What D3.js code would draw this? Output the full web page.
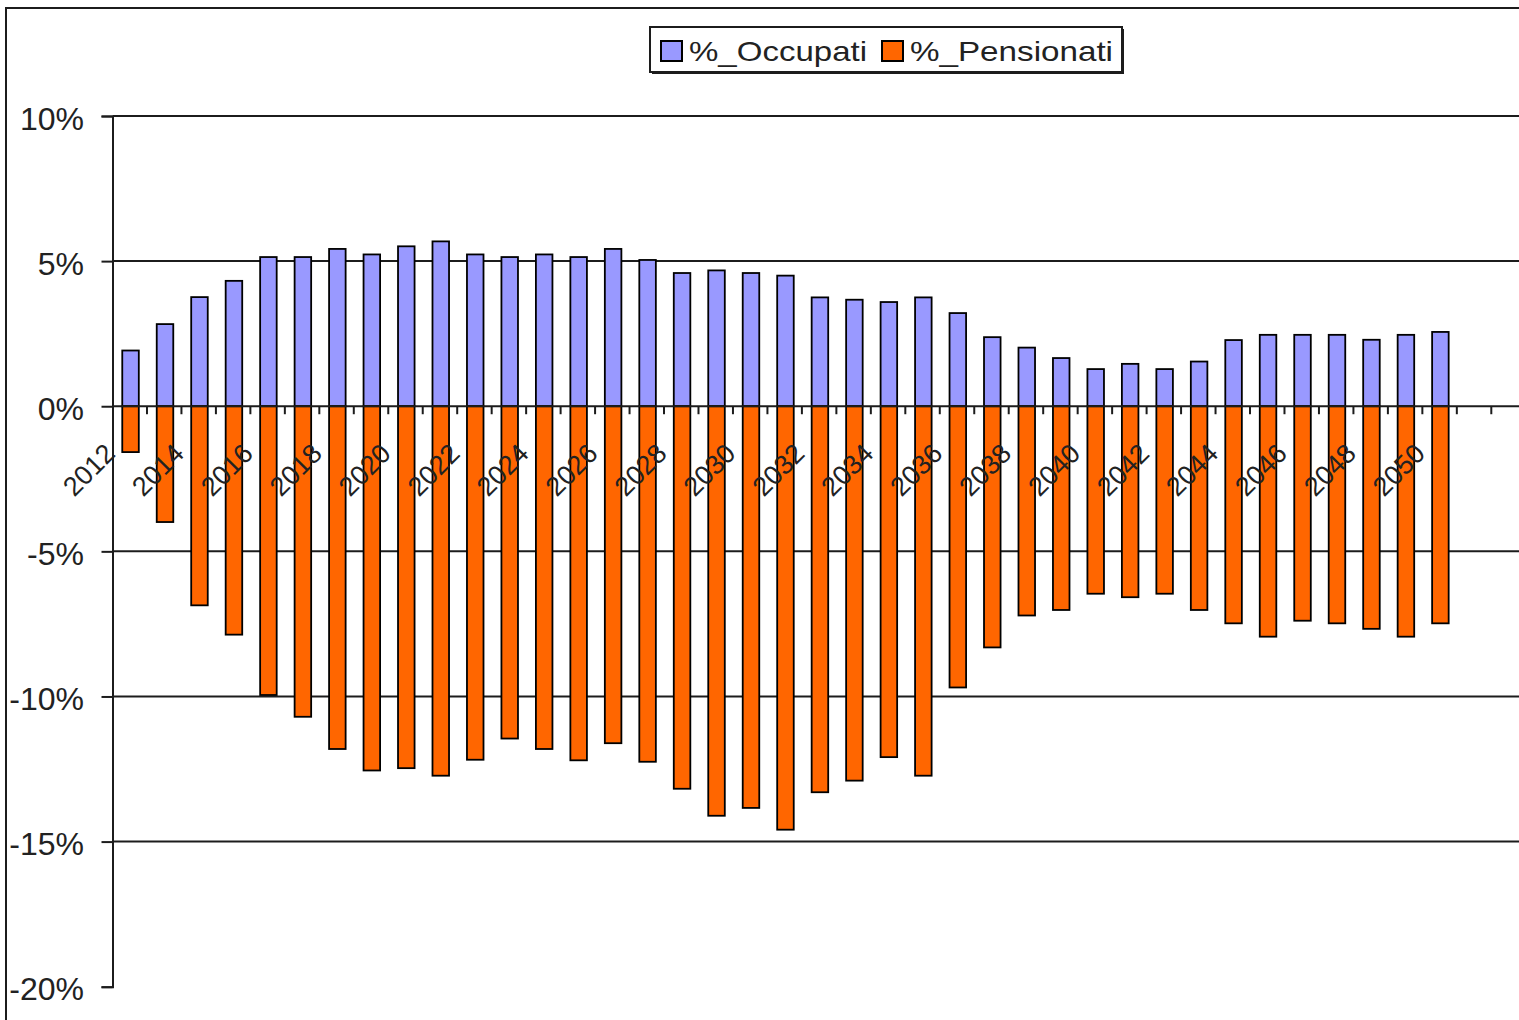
<!DOCTYPE html>
<html>
<head>
<meta charset="utf-8">
<script src="https://cdn.jsdelivr.net/npm/d3@7"></script>
<style>
  body { margin: 0; background: #fff; }
  svg { display: block; font-family: "Liberation Sans", Arial, sans-serif; }
</style>
</head>
<body>
<svg id="chart" width="1519" height="1020"></svg>
<script>
// Yearly change (%) of employed and retired people
const years = ["2012","2013","2014","2015","2016","2017","2018","2019","2020","2021",
               "2022","2023","2024","2025","2026","2027","2028","2029","2030","2031",
               "2032","2033","2034","2035","2036","2037","2038","2039","2040","2041",
               "2042","2043","2044","2045","2046","2047","2048","2049","2050"];
// the source range ends with two empty rows
const blankSlots = ["", ""];

const occupati = [1.92, 2.83, 3.76, 4.32, 5.14, 5.14, 5.42, 5.23, 5.51, 5.68,
                  5.23, 5.14, 5.23, 5.14, 5.42, 5.04, 4.59, 4.68, 4.59, 4.50,
                  3.75, 3.67, 3.59, 3.75, 3.21, 2.38, 2.02, 1.66, 1.28, 1.46,
                  1.28, 1.54, 2.28, 2.46, 2.46, 2.46, 2.29, 2.46, 2.56];

const pensionati = [-1.58, -3.99, -6.86, -7.87, -9.95, -10.70, -11.81, -12.55, -12.47, -12.73,
                    -12.18, -11.45, -11.81, -12.20, -11.61, -12.25, -13.18, -14.11, -13.84, -14.59,
                    -13.30, -12.90, -12.09, -12.73, -9.69, -8.31, -7.21, -7.02, -6.46, -6.58,
                    -6.46, -7.02, -7.48, -7.94, -7.39, -7.48, -7.67, -7.94, -7.48];

const yTicks = [-20, -15, -10, -5, 0, 5, 10];
const seriesNames = ["%_Occupati", "%_Pensionati"];
const seriesColors = ["#9999ff", "#ff6600"];

const categories = years.concat(blankSlots);

const svg = d3.select("#chart");
const ink = "#1c1c1c";

// chart area frame
svg.append("rect")
  .attr("x", 6).attr("y", 8)
  .attr("width", 1540).attr("height", 1040)
  .attr("fill", "#fff").attr("stroke", ink).attr("stroke-width", 2);

const plot = { left: 112.5, top: 116, bottom: 986.7, step: 34.47 };
plot.right = plot.left + plot.step * categories.length;

const x = d3.scaleBand()
  .domain(d3.range(categories.length))
  .range([plot.left, plot.right])
  .paddingInner(0).paddingOuter(0);

const y = d3.scaleLinear()
  .domain([d3.min(yTicks), d3.max(yTicks)])
  .range([plot.bottom, plot.top]);

const bw = x.bandwidth();
const barW = bw * 0.48;
const barX = i => x(i) + bw / 2 - barW / 2 + 0.8;

// horizontal gridlines
svg.append("g")
  .selectAll("line")
  .data(yTicks.filter(t => t !== 0 && t !== d3.min(yTicks)))
  .join("line")
  .attr("x1", plot.left).attr("x2", plot.right)
  .attr("y1", d => y(d)).attr("y2", d => y(d))
  .attr("stroke", ink).attr("stroke-width", 2);

// bars
const bars = svg.append("g").attr("stroke", "#000").attr("stroke-width", 1.8);
bars.selectAll("rect.occ")
  .data(occupati)
  .join("rect")
  .attr("class", "occ")
  .attr("x", (d, i) => barX(i))
  .attr("width", barW)
  .attr("y", d => y(Math.max(0, d)))
  .attr("height", d => Math.abs(y(d) - y(0)))
  .attr("fill", seriesColors[0]);

bars.selectAll("rect.pen")
  .data(pensionati)
  .join("rect")
  .attr("class", "pen")
  .attr("x", (d, i) => barX(i))
  .attr("width", barW)
  .attr("y", d => y(Math.max(0, d)))
  .attr("height", d => Math.abs(y(d) - y(0)))
  .attr("fill", seriesColors[1]);

// value axis
const yAxis = svg.append("g")
  .attr("transform", `translate(${plot.left},0)`)
  .call(d3.axisLeft(y).tickValues(yTicks).tickSize(11).tickPadding(30)
        .tickFormat(d => d + "%"));
yAxis.select(".domain").attr("stroke", ink).attr("stroke-width", 2);
yAxis.selectAll(".tick line").attr("stroke", ink).attr("stroke-width", 2);
yAxis.selectAll(".tick text")
  .attr("x", 84 - plot.left)
  .attr("dy", null)
  .attr("y", 13)
  .attr("fill", "#222")
  .style("font-size", "32px")
  .style("font-family", "'Liberation Sans', Arial, sans-serif");

// category axis at zero
const xAxis = svg.append("g");
xAxis.append("line")
  .attr("x1", plot.left).attr("x2", plot.right)
  .attr("y1", y(0)).attr("y2", y(0))
  .attr("stroke", ink).attr("stroke-width", 2);
xAxis.selectAll("line.tick")
  .data(categories)
  .join("line")
  .attr("class", "tick")
  .attr("x1", (d, i) => x(i) + bw).attr("x2", (d, i) => x(i) + bw)
  .attr("y1", y(0)).attr("y2", y(0) + 8)
  .attr("stroke", ink).attr("stroke-width", 2);

xAxis.selectAll("text")
  .data(categories.map((c, i) => ({ c, i })).filter(d => d.i % 2 === 0 && d.c !== ""))
  .join("text")
  .attr("transform", d => `translate(${x(d.i) + bw / 2 - 13},${y(0) + 49}) rotate(-45)`)
  .attr("text-anchor", "end")
  .attr("fill", "#222")
  .style("font-size", "27px")
  .text(d => d.c);

// legend
const legend = svg.append("g");
legend.append("rect")
  .attr("x", 652).attr("y", 29).attr("width", 472).attr("height", 45)
  .attr("fill", ink);
legend.append("rect")
  .attr("x", 650).attr("y", 27).attr("width", 472).attr("height", 45)
  .attr("fill", "#fff").attr("stroke", ink).attr("stroke-width", 2);

const legendItems = [
  { sx: 661, tx: 689, tl: 178 },
  { sx: 882, tx: 910, tl: 203 }
];
legendItems.forEach((it, k) => {
  legend.append("rect")
    .attr("x", it.sx).attr("y", 41).attr("width", 21).attr("height", 20)
    .attr("fill", seriesColors[k]).attr("stroke", "#000").attr("stroke-width", 2);
  legend.append("text")
    .attr("x", it.tx).attr("y", 61)
    .attr("fill", "#222")
    .attr("textLength", it.tl)
    .attr("lengthAdjust", "spacingAndGlyphs")
    .style("font-size", "28px")
    .text(seriesNames[k]);
});
</script>
</body>
</html>
